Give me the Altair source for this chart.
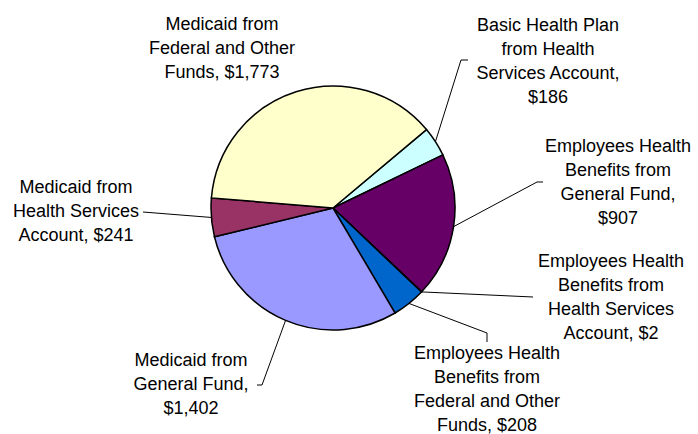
import math
import altair as alt
import pandas as pd

# ---- data ----
categories = [
    "Basic Health Plan from Health Services Account",
    "Employees Health Benefits from General Fund",
    "Employees Health Benefits from Health Services Account",
    "Employees Health Benefits from Federal and Other Funds",
    "Medicaid from General Fund",
    "Medicaid from Health Services Account",
    "Medicaid from Federal and Other Funds",
]
values = [186, 907, 2, 208, 1402, 241, 1773]
label_lines = [
    ["Basic Health Plan", "from Health", "Services Account,", "${v}"],
    ["Employees Health", "Benefits from", "General Fund,", "${v}"],
    ["Employees Health", "Benefits from", "Health Services", "Account, ${v}"],
    ["Employees Health", "Benefits from", "Federal and Other", "Funds, ${v}"],
    ["Medicaid from", "General Fund,", "${v}"],
    ["Medicaid from", "Health Services", "Account, ${v}"],
    ["Medicaid from", "Federal and Other", "Funds, ${v}"],
]
colors = ["#CCFFFF", "#660066", "#FF8080", "#0066CC", "#9999FF", "#993366", "#FFFFCC"]

# ---- layout ----
W, H = 698, 434
CX, CY, R = 333, 208, 122
START_DEG = 50
# (x centre of text block, y centre of first line)
label_pos = [(548, 26), (618, 147), (611, 262), (487, 354), (191, 361), (76, 188), (222, 25)]
leader_pts = [
    [(461, 60), (468, 60)],
    [(537, 182), (543, 182)],
    [(533, 297)],
    [(487, 333), (487, 342)],
    [(262, 385), (257, 385)],
    [(143, 212)],
    [],
]

total = sum(values)
start = math.radians(START_DEG)

pie_df = pd.DataFrame({"cat": categories, "value": values, "idx": list(range(len(values)))})

labels = []
for lines, v in zip(label_lines, values):
    labels.append("\n".join(l.replace("{v}", f"{v:,}") for l in lines))
text_df = pd.DataFrame({
    "cat": categories,
    "label": labels,
    "lx": [p[0] for p in label_pos],
    "ly": [p[1] for p in label_pos],
})

rows = []
cum = 0
for c, v, pts in zip(categories, values, leader_pts):
    mid = start + 2 * math.pi * (cum + v / 2) / total
    cum += v
    if not pts:
        continue
    seq = [(CX + R * math.sin(mid), CY - R * math.cos(mid))] + pts
    for i, (px, py) in enumerate(seq):
        rows.append({"cat": c, "seq": i, "px": px, "py": py})
line_df = pd.DataFrame(rows)

arcs = alt.Chart(pie_df).mark_arc(outerRadius=R, stroke="black", strokeWidth=1.5).encode(
    theta=alt.Theta("value:Q", stack=True,
                    scale=alt.Scale(domain=[0, total], range=[start, start + 2 * math.pi], nice=False, zero=True)),
    color=alt.Color("cat:N", scale=alt.Scale(domain=categories, range=colors), legend=None),
    order=alt.Order("idx:Q"),
    x=alt.value(CX),
    y=alt.value(CY),
)

leaders = alt.Chart(line_df).mark_line(color="black", strokeWidth=1).encode(
    x=alt.X("px:Q", scale=None, axis=None),
    y=alt.Y("py:Q", scale=None, axis=None),
    detail="cat:N",
    order="seq:Q",
)

texts = alt.Chart(text_df).mark_text(
    font="Liberation Sans", fontSize=18, lineHeight=24, align="center",
    baseline="middle", color="black", lineBreak="\n"
).encode(
    x=alt.X("lx:Q", scale=None, axis=None),
    y=alt.Y("ly:Q", scale=None, axis=None),
    text="label:N",
)

chart = alt.layer(leaders, arcs, texts).properties(
    width=W, height=H, autosize=alt.AutoSizeParams(type="none"), padding=0,
    background="white",
).configure_view(stroke=None)

chart.save("out.html", embed_options={"renderer": "svg", "actions": False})
